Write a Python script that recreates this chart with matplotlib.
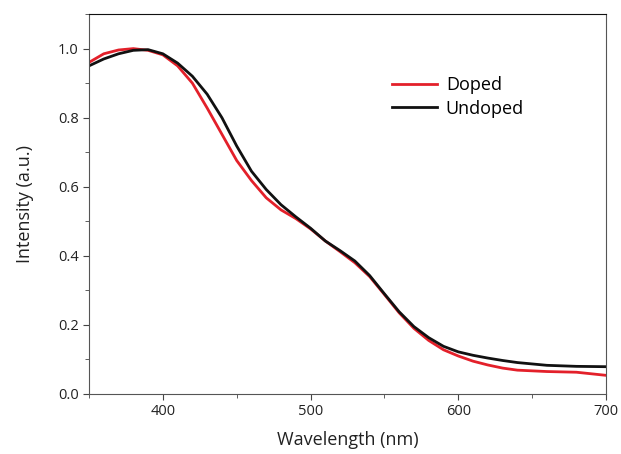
import matplotlib
matplotlib.use('Agg')
import matplotlib.pyplot as plt
from matplotlib.ticker import MultipleLocator

# values
wavelength = [350, 360, 370, 380, 390, 400, 410, 420, 430, 440, 450, 460, 470, 480,
              490, 500, 510, 520, 530, 540, 550, 560, 570, 580, 590, 600, 610, 620,
              630, 640, 660, 680, 700]
doped = [0.960, 0.985, 0.996, 1.000, 0.995, 0.982, 0.950, 0.900, 0.828, 0.752, 0.676,
         0.618, 0.568, 0.533, 0.508, 0.478, 0.443, 0.412, 0.380, 0.340, 0.288, 0.235,
         0.190, 0.155, 0.128, 0.110, 0.095, 0.084, 0.075, 0.069, 0.065, 0.063, 0.054]
undoped = [0.950, 0.970, 0.985, 0.995, 0.997, 0.985, 0.958, 0.920, 0.868, 0.800, 0.718,
           0.645, 0.592, 0.548, 0.513, 0.480, 0.443, 0.415, 0.385, 0.343, 0.290, 0.238,
           0.195, 0.163, 0.138, 0.122, 0.112, 0.104, 0.097, 0.091, 0.083, 0.080, 0.079]

plt.rcParams['font.family'] = ['Open Sans', 'DejaVu Sans']

fig = plt.figure(figsize=(6.21, 4.54), dpi=100)
ax = fig.add_axes([0.1433, 0.1322, 0.8325, 0.8368])

ax.plot(wavelength, doped, color='#e3202a', lw=2.0, label='Doped')
ax.plot(wavelength, undoped, color='#111111', lw=2.0, label='Undoped')

ax.set_xlim(350, 700)
ax.set_ylim(0, 1.1)
ax.xaxis.set_major_locator(MultipleLocator(100))
ax.xaxis.set_minor_locator(MultipleLocator(50))
ax.yaxis.set_major_locator(MultipleLocator(0.2))
ax.yaxis.set_minor_locator(MultipleLocator(0.1))
ax.yaxis.set_major_formatter(plt.FormatStrFormatter('%.1f'))
ax.tick_params(which='both', direction='out', colors='#444444', labelcolor='#222222', labelsize=10.5)
ax.tick_params(which='major', length=4)
ax.tick_params(which='minor', length=3)
for side in ['left', 'bottom', 'right']:
    ax.spines[side].set_color('#555555')
ax.spines['top'].set_color('#111111')

ax.set_xlabel('Wavelength (nm)', fontsize=13, color='#222222', labelpad=8)
ax.set_ylabel('Intensity (a.u.)', fontsize=13, color='#222222', labelpad=17)

ax.legend(loc='upper left', bbox_to_anchor=(0.568, 0.86), frameon=False, fontsize=13,
          handlelength=2.5, handletextpad=0.5, labelspacing=0.3, borderpad=0)

plt.savefig('out.png', dpi=100)
